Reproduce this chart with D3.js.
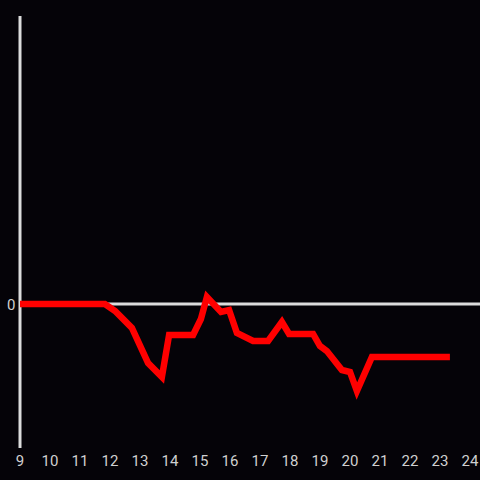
<!DOCTYPE html>
<html><head><meta charset="utf-8">
<script src="https://cdn.jsdelivr.net/npm/d3@7"></script>
<style>html,body{margin:0;padding:0;background:#050308;}svg{display:block;}</style>
</head><body>
<script>
const hours = [9.0, 11.83, 12.17, 12.73, 13.27, 13.73, 13.97, 14.77, 15.03, 15.23, 15.7, 15.97, 16.23, 16.77, 17.27, 17.73, 17.97, 18.77, 19.0, 19.23, 19.73, 20.0, 20.23, 20.73, 23.33];
const values = [0, 0, -0.07, -0.24, -0.59, -0.73, -0.31, -0.31, -0.15, 0.07, -0.08, -0.06, -0.29, -0.37, -0.37, -0.18, -0.30, -0.30, -0.42, -0.47, -0.66, -0.68, -0.87, -0.53, -0.53];
const xTicks = [9,10,11,12,13,14,15,16,17,18,19,20,21,22,23,24];
const yTicks = [0];

const W = 480, H = 480;
const svg = d3.select("body").append("svg").attr("width", W).attr("height", H);
svg.append("rect").attr("width", W).attr("height", H).attr("fill", "#050308");

const x = d3.scaleLinear().domain([9, 24]).range([20, 470]);
const y = d3.scaleLinear().domain([-1.44, 2.88]).range([448, 16]);

// y axis line
svg.append("line").attr("x1", 20).attr("x2", 20).attr("y1", 16).attr("y2", 448)
  .attr("stroke", "#dcdcdc").attr("stroke-width", 3);
// zero line
svg.append("line").attr("x1", 20).attr("x2", 480).attr("y1", y(0)).attr("y2", y(0))
  .attr("stroke", "#dcdcdc").attr("stroke-width", 3);

const font = "Roboto, 'Open Sans', sans-serif";
svg.selectAll("text.xt").data(xTicks).enter().append("text")
  .attr("x", d => x(d)).attr("y", 465.5).attr("text-anchor", "middle")
  .attr("fill", "#d0d0d0").attr("font-family", font).attr("font-size", 15).text(d => d);
svg.selectAll("text.yt").data(yTicks).enter().append("text")
  .attr("x", 15.5).attr("y", y(0) + 6).attr("text-anchor", "end")
  .attr("fill", "#d0d0d0").attr("font-family", font).attr("font-size", 15).text(d => d);

const line = d3.line().x((d, i) => x(hours[i])).y(d => y(d));
svg.append("path").datum(values).attr("d", line)
  .attr("fill", "none").attr("stroke", "#ff0000").attr("stroke-width", 6.5);
</script>
</body></html>
